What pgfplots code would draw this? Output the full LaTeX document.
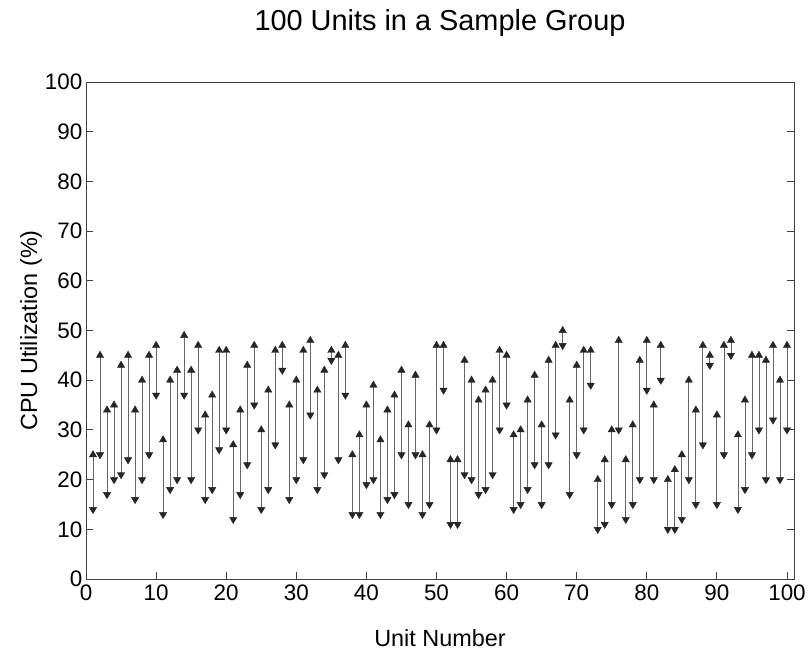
\documentclass[border=0pt]{standalone}
\usepackage{fontspec}
\setmainfont{Liberation Sans}
\usepackage{pgfplots}
\pgfplotsset{compat=1.18}
\usepackage{pgfplotstable}
\pgfplotstableread{
u hi lo
1 25 14
2 45 25
3 34 17
4 35 20
5 43 21
6 45 24
7 34 16
8 40 20
9 45 25
10 47 37
11 28 13
12 40 18
13 42 20
14 49 37
15 42 20
16 47 30
17 33 16
18 37 18
19 46 26
20 46 30
21 27 12
22 34 17
23 43 23
24 47 35
25 30 14
26 38 18
27 46 27
28 47 42
29 35 16
30 40 20
31 46 24
32 48 33
33 38 18
34 42 21
35 46 44
36 45 24
37 47 37
38 25 13
39 29 13
40 35 19
41 39 20
42 28 13
43 34 16
44 37 17
45 42 25
46 31 15
47 41 25
48 25 13
49 31 15
50 47 30
51 47 38
52 24 11
53 24 11
54 44 21
55 40 20
56 36 17
57 38 18
58 40 21
59 46 30
60 45 35
61 29 14
62 30 15
63 36 18
64 41 23
65 31 15
66 44 23
67 47 29
68 50 47
69 36 17
70 43 25
71 46 30
72 46 39
73 20 10
74 24 11
75 30 15
76 48 30
77 24 12
78 31 15
79 44 20
80 48 38
81 35 20
82 47 40
83 20 10
84 22 10
85 25 12
86 40 20
87 34 15
88 47 27
89 45 43
90 33 15
91 47 25
92 48 45
93 29 14
94 36 18
95 45 25
96 45 30
97 44 20
98 47 32
99 40 20
100 47 30
}\data
\begin{document}
\begin{tikzpicture}
\useasboundingbox (-86bp,-72bp) rectangle (724bp,579bp);
\begin{axis}[
  at={(0,0)}, anchor=south west,
  scale only axis, width=708bp, height=497bp,
  xmin=0, xmax=101, ymin=0, ymax=100,
  xtick={0,10,...,100}, ytick={0,10,...,100},
  xtick pos=left, ytick pos=both,
  tick align=inside, major tick length=7bp,
  tick style={black!75, line width=0.8bp},
  axis line style={black!75, line width=0.9bp},
  every tick label/.append style={font=\fontsize{22.5}{27}\selectfont},
  /pgf/number format/assume math mode=true,
  yticklabel style={inner sep=0pt, xshift=-3.5bp},
  xticklabel style={inner sep=0pt, yshift=-6bp},
  title={100 Units in a Sample Group},
  title style={at={(axis description cs:0.5,1.0915)}, anchor=base, inner sep=0pt, font=\fontsize{29}{34}\selectfont},
  xlabel={Unit Number},
  xlabel style={at={(axis description cs:0.5,-0.1368)}, anchor=base, inner sep=0pt, font=\fontsize{23.5}{28}\selectfont},
  ylabel={CPU Utilization (\%)},
  ylabel style={at={(axis description cs:-0.0692,0.5)}, anchor=base, inner sep=0pt, font=\fontsize{23.5}{28}\selectfont},
]
\addplot[only marks, mark=none, black!60, line width=0.8bp,
  error bars/.cd, y dir=plus, y explicit, error mark=none,
  error bar style={black!60, line width=0.8bp}]
  table[x=u, y=lo, y error expr=\thisrow{hi}-\thisrow{lo}] {\data};
\addplot[only marks, mark=triangle*, mark size=4.2bp, black!85]
  table[x=u, y=hi] {\data};
\addplot[only marks, mark=triangle*, mark size=4.2bp, black!85, mark options={rotate=180}]
  table[x=u, y=lo] {\data};
\end{axis}
\end{tikzpicture}
\end{document}
